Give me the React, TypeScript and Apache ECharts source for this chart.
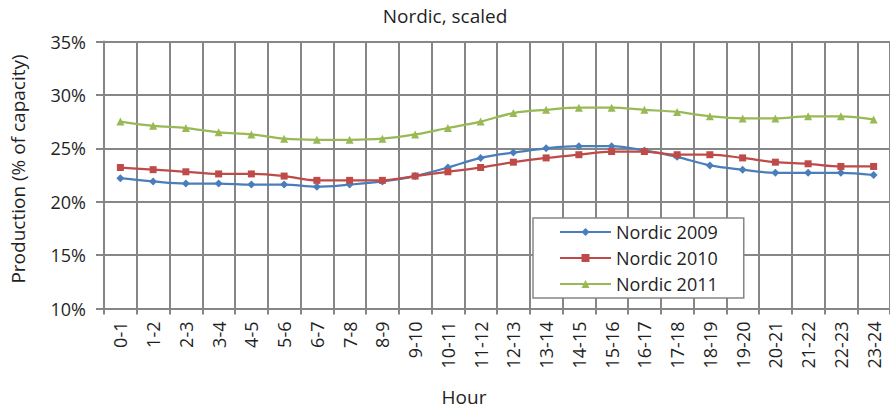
import React, { useEffect, useRef } from "react";
import * as echarts from "echarts";

const hours = ["0-1","1-2","2-3","3-4","4-5","5-6","6-7","7-8","8-9","9-10","10-11","11-12","12-13","13-14","14-15","15-16","16-17","17-18","18-19","19-20","20-21","21-22","22-23","23-24"];
const nordic2009 = [22.2, 21.9, 21.7, 21.7, 21.6, 21.6, 21.4, 21.6, 21.9, 22.4, 23.2, 24.1, 24.6, 25.0, 25.2, 25.2, 24.8, 24.2, 23.4, 23.0, 22.7, 22.7, 22.7, 22.5];
const nordic2010 = [23.2, 23.0, 22.8, 22.6, 22.6, 22.4, 22.0, 22.0, 22.0, 22.4, 22.8, 23.2, 23.7, 24.1, 24.4, 24.7, 24.7, 24.4, 24.4, 24.1, 23.7, 23.55, 23.3, 23.3];
const nordic2011 = [27.5, 27.1, 26.9, 26.5, 26.3, 25.9, 25.8, 25.8, 25.9, 26.3, 26.9, 27.5, 28.3, 28.6, 28.8, 28.8, 28.6, 28.4, 28.0, 27.8, 27.8, 28.0, 28.0, 27.7];
const seriesNames = ["Nordic 2009", "Nordic 2010", "Nordic 2011"];
const colors = ["#4a7ebb", "#be4b48", "#98b954"];

const FONT = "'Open Sans', sans-serif";
const TXT = "#1f1f1f";
const GRID = "#868686";

export default function App() {
  const ref = useRef<HTMLDivElement>(null);
  useEffect(() => {
    if (!ref.current) return;
    const chart = echarts.init(ref.current, undefined, { renderer: "svg" });
    const mk = (name: string, data: number[], color: string, symbol: string, size: number) => ({
      name,
      type: "line",
      data,
      smooth: 0.35,
      symbol,
      symbolSize: size,
      showSymbol: true,
      lineStyle: { color, width: 2.25 },
      itemStyle: { color },
    });
    chart.setOption({
      animation: false,
      backgroundColor: "#ffffff",
      textStyle: { fontFamily: FONT },
      grid: { left: 104, top: 41.5, bottom: 101.5, right: -9, containLabel: false },
      legend: {
        orient: "vertical",
        left: 533,
        top: 218,
        data: seriesNames,
        backgroundColor: "#ffffff",
        borderColor: GRID,
        borderWidth: 1.5,
        borderRadius: 0,
        padding: [4, 26, 4, 26],
        itemWidth: 51,
        itemHeight: 10,
        itemGap: 6,
        textStyle: { fontFamily: FONT, fontSize: 18, color: TXT, lineHeight: 20 },
      },
      xAxis: {
        type: "category",
        data: hours,
        boundaryGap: true,
        axisLine: { show: true, lineStyle: { color: GRID, width: 2 } },
        axisTick: { show: true, length: 6, interval: 0, lineStyle: { color: GRID, width: 2 } },
        splitLine: { show: true, interval: 0, lineStyle: { color: GRID, width: 2 } },
        axisLabel: { interval: 0, rotate: 90, margin: 13, fontFamily: FONT, fontSize: 18, color: TXT },
      },
      yAxis: {
        type: "value",
        min: 10,
        max: 35,
        interval: 5,
        axisLine: { show: true, lineStyle: { color: GRID, width: 2 } },
        axisTick: { show: true, length: 8, lineStyle: { color: GRID, width: 2 } },
        splitLine: { show: true, lineStyle: { color: GRID, width: 2 } },
        axisLabel: { formatter: "{value}%", margin: 18, fontFamily: FONT, fontSize: 18, color: TXT },
      },
      graphic: [
        { type: "text", x: 445, y: 16, style: { text: "Nordic, scaled", font: `19px ${FONT}`, fill: TXT, textAlign: "center", textVerticalAlign: "middle" } },
        { type: "text", x: 464, y: 397, style: { text: "Hour", font: `19px ${FONT}`, fill: TXT, textAlign: "center", textVerticalAlign: "middle" } },
        { type: "text", x: 18, y: 169, rotation: Math.PI / 2, style: { text: "Production (% of capacity)", font: `19px ${FONT}`, fill: TXT, textAlign: "center", textVerticalAlign: "middle" } },
      ],
      series: [
        mk(seriesNames[0], nordic2009, colors[0], "diamond", 8),
        mk(seriesNames[1], nordic2010, colors[1], "rect", 7),
        mk(seriesNames[2], nordic2011, colors[2], "triangle", 8),
      ],
    });
    return () => chart.dispose();
  }, []);
  return (
    <div style={{ position: "fixed", left: 0, top: 0, width: 890, height: 410, overflow: "hidden", background: "#fff" }}>
      <div ref={ref} style={{ width: 890, height: 410 }} />
    </div>
  );
}
